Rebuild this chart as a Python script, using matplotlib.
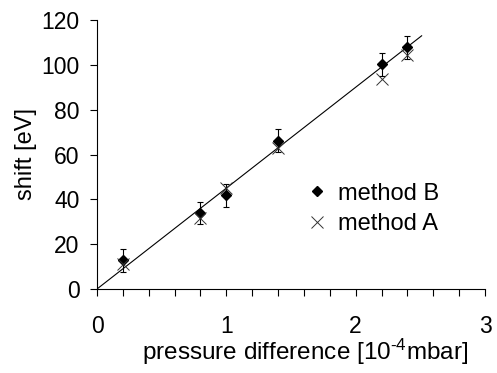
import matplotlib
matplotlib.use("Agg")
import matplotlib.pyplot as plt
import numpy as np

plt.rcParams['font.family'] = ['Liberation Sans', 'DejaVu Sans']
plt.rcParams['mathtext.fontset'] = 'custom'
plt.rcParams['mathtext.rm'] = 'Liberation Sans'
plt.rcParams['mathtext.default'] = 'regular'

pressure = [0.2, 0.8, 1.0, 1.4, 2.2, 2.4]
shift_b = [12.8, 33.8, 41.8, 66.2, 100.2, 107.8]
err_b = [5, 4.8, 5.2, 5, 5, 5]
shift_a = [11, 31.5, 45, 63, 93.8, 104.5]
fit_x = [0, 2.51]
slope = 45.0

fig = plt.figure(figsize=(4.97, 3.73), dpi=100)
ax = fig.add_axes([97 / 497, 1 - 289 / 373, 388 / 497, 269 / 373])

ax.plot(fit_x, [slope * v for v in fit_x], color='black', lw=0.8, zorder=1)
ax.errorbar(pressure, shift_b, yerr=err_b, fmt='none', ecolor='black',
            elinewidth=0.8, capsize=2.5, capthick=0.8, zorder=2)
ax.plot(pressure, shift_b, 'D', color='black', markersize=5.2, linestyle='none',
        label='method B', zorder=3)
ax.plot(pressure, shift_a, 'x', color='#333333', markersize=8.5, markeredgewidth=0.7,
        linestyle='none', label='method A', zorder=3)

ax.set_xlim(0, 3)
ax.set_ylim(0, 120)
ax.set_xticks([0, 1, 2, 3])
ax.set_xticks(np.arange(0, 3.01, 0.2), minor=True)
ax.set_yticks(range(0, 121, 20))
ax.tick_params(axis='both', which='both', direction='out', labelsize=16.5,
               length=5, width=0.8, colors='black')
ax.tick_params(axis='x', pad=14)
ax.tick_params(axis='y', pad=7.5)
for s in ['top', 'right']:
    ax.spines[s].set_visible(False)
for s in ['left', 'bottom']:
    ax.spines[s].set_linewidth(0.8)

ax.set_xlabel(r'pressure difference [10$^{\text{-4}}$mbar]', fontsize=17.5)
ax.xaxis.set_label_coords(0.536, -0.178)
ax.set_ylabel('shift [eV]', fontsize=17, labelpad=3)

ax.legend(loc='center left', bbox_to_anchor=(0.540, 0.298), frameon=False,
          fontsize=17, handletextpad=0.40, handlelength=0.92, labelspacing=0.36,
          borderaxespad=0, borderpad=0)

fig.savefig('out.png', dpi=100)
